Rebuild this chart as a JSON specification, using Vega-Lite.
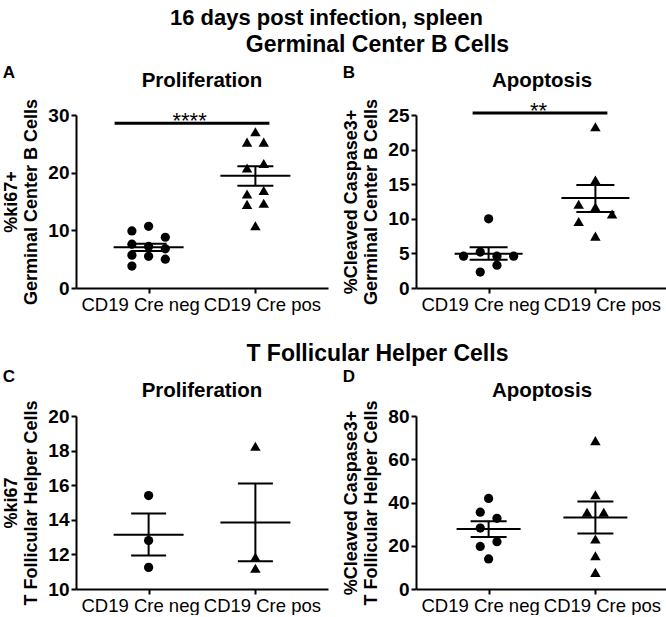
{
  "$schema": "https://vega.github.io/schema/vega-lite/v6.json",
  "padding": {"left": 2, "top": 6, "right": 0, "bottom": 0},
  "config": {
    "font": "Liberation Sans",
    "view": {"stroke": null},
    "title": {"font": "Liberation Sans", "fontWeight": "bold", "color": "black"},
    "axis": {"domainColor": "black", "domainWidth": 2, "tickColor": "black", "tickWidth": 2, "tickSize": 5, "labelColor": "black", "labelFont": "Liberation Sans", "titleFont": "Liberation Sans", "titleColor": "black", "grid": false},
    "axisY": {"labelFontSize": 19, "labelFontWeight": "bold", "labelPadding": 2, "labelOverlap": false, "titleFontSize": 18, "titleFontWeight": "bold", "titlePadding": 7, "titleLineHeight": 20},
    "axisX": {"labelFontSize": 18.5, "labelFontWeight": "normal", "labelAngle": 0, "labelPadding": 2, "labelOverlap": false, "labelOffset": {"condition": {"test": "datum.value === 'CD19 Cre neg'", "value": -8.5}, "value": 6.5}}
  },
  "title": {"text": "16 days post infection, spleen", "fontSize": 22, "anchor": "middle", "dx": -9},
  "datasets": {
    "pts": [
      {"panel": "A", "group": "CD19 Cre neg", "value": 9.9, "slot": -2},
      {"panel": "A", "group": "CD19 Cre neg", "value": 10.7, "slot": 0},
      {"panel": "A", "group": "CD19 Cre neg", "value": 8.8, "slot": 2},
      {"panel": "A", "group": "CD19 Cre neg", "value": 7.6, "slot": -2},
      {"panel": "A", "group": "CD19 Cre neg", "value": 7.2, "slot": 0},
      {"panel": "A", "group": "CD19 Cre neg", "value": 6.8, "slot": 2},
      {"panel": "A", "group": "CD19 Cre neg", "value": 5.7, "slot": -2},
      {"panel": "A", "group": "CD19 Cre neg", "value": 5.5, "slot": 0},
      {"panel": "A", "group": "CD19 Cre neg", "value": 5.0, "slot": 2},
      {"panel": "A", "group": "CD19 Cre neg", "value": 3.8, "slot": -2},
      {"panel": "A", "group": "CD19 Cre pos", "value": 27.1, "slot": 0},
      {"panel": "A", "group": "CD19 Cre pos", "value": 25.3, "slot": -1},
      {"panel": "A", "group": "CD19 Cre pos", "value": 25.3, "slot": 1},
      {"panel": "A", "group": "CD19 Cre pos", "value": 21.6, "slot": 1},
      {"panel": "A", "group": "CD19 Cre pos", "value": 20.8, "slot": -1},
      {"panel": "A", "group": "CD19 Cre pos", "value": 16.3, "slot": -1},
      {"panel": "A", "group": "CD19 Cre pos", "value": 16.9, "slot": 1},
      {"panel": "A", "group": "CD19 Cre pos", "value": 14.5, "slot": -1},
      {"panel": "A", "group": "CD19 Cre pos", "value": 14.7, "slot": 1},
      {"panel": "A", "group": "CD19 Cre pos", "value": 10.8, "slot": 0},
      {"panel": "B", "group": "CD19 Cre neg", "value": 10.0, "slot": 0},
      {"panel": "B", "group": "CD19 Cre neg", "value": 4.6, "slot": -3},
      {"panel": "B", "group": "CD19 Cre neg", "value": 5.2, "slot": -1},
      {"panel": "B", "group": "CD19 Cre neg", "value": 4.6, "slot": 1},
      {"panel": "B", "group": "CD19 Cre neg", "value": 4.6, "slot": 3},
      {"panel": "B", "group": "CD19 Cre neg", "value": 3.3, "slot": 1},
      {"panel": "B", "group": "CD19 Cre neg", "value": 2.3, "slot": -1},
      {"panel": "B", "group": "CD19 Cre pos", "value": 23.3, "slot": 0},
      {"panel": "B", "group": "CD19 Cre pos", "value": 15.6, "slot": 0},
      {"panel": "B", "group": "CD19 Cre pos", "value": 12.1, "slot": -2},
      {"panel": "B", "group": "CD19 Cre pos", "value": 11.7, "slot": 0},
      {"panel": "B", "group": "CD19 Cre pos", "value": 10.7, "slot": 2},
      {"panel": "B", "group": "CD19 Cre pos", "value": 9.6, "slot": -2},
      {"panel": "B", "group": "CD19 Cre pos", "value": 7.5, "slot": 0},
      {"panel": "C", "group": "CD19 Cre neg", "value": 15.4, "slot": 0},
      {"panel": "C", "group": "CD19 Cre neg", "value": 12.8, "slot": 0},
      {"panel": "C", "group": "CD19 Cre neg", "value": 11.25, "slot": 0},
      {"panel": "C", "group": "CD19 Cre pos", "value": 18.25, "slot": 0},
      {"panel": "C", "group": "CD19 Cre pos", "value": 11.85, "slot": 0},
      {"panel": "C", "group": "CD19 Cre pos", "value": 11.2, "slot": 0},
      {"panel": "D", "group": "CD19 Cre neg", "value": 41.9, "slot": 0},
      {"panel": "D", "group": "CD19 Cre neg", "value": 35.5, "slot": -1},
      {"panel": "D", "group": "CD19 Cre neg", "value": 32.7, "slot": 1},
      {"panel": "D", "group": "CD19 Cre neg", "value": 28.2, "slot": -1},
      {"panel": "D", "group": "CD19 Cre neg", "value": 19.7, "slot": -1},
      {"panel": "D", "group": "CD19 Cre neg", "value": 21.9, "slot": 1},
      {"panel": "D", "group": "CD19 Cre neg", "value": 13.9, "slot": 0},
      {"panel": "D", "group": "CD19 Cre pos", "value": 68.6, "slot": 0},
      {"panel": "D", "group": "CD19 Cre pos", "value": 43.6, "slot": 0},
      {"panel": "D", "group": "CD19 Cre pos", "value": 35.5, "slot": -1},
      {"panel": "D", "group": "CD19 Cre pos", "value": 35.5, "slot": 1},
      {"panel": "D", "group": "CD19 Cre pos", "value": 23.1, "slot": 0},
      {"panel": "D", "group": "CD19 Cre pos", "value": 15.4, "slot": 0},
      {"panel": "D", "group": "CD19 Cre pos", "value": 7.7, "slot": 0}
    ],
    "stats": [
      {"panel": "A", "group": "CD19 Cre neg", "stat": "mean", "value": 7.05},
      {"panel": "A", "group": "CD19 Cre neg", "stat": "lo", "value": 6.4},
      {"panel": "A", "group": "CD19 Cre neg", "stat": "hi", "value": 7.68},
      {"panel": "A", "group": "CD19 Cre pos", "stat": "mean", "value": 19.45},
      {"panel": "A", "group": "CD19 Cre pos", "stat": "lo", "value": 17.75},
      {"panel": "A", "group": "CD19 Cre pos", "stat": "hi", "value": 21.1},
      {"panel": "B", "group": "CD19 Cre neg", "stat": "mean", "value": 4.95},
      {"panel": "B", "group": "CD19 Cre neg", "stat": "lo", "value": 4.1},
      {"panel": "B", "group": "CD19 Cre neg", "stat": "hi", "value": 5.9},
      {"panel": "B", "group": "CD19 Cre pos", "stat": "mean", "value": 13.0},
      {"panel": "B", "group": "CD19 Cre pos", "stat": "lo", "value": 11.0},
      {"panel": "B", "group": "CD19 Cre pos", "stat": "hi", "value": 14.9},
      {"panel": "C", "group": "CD19 Cre neg", "stat": "mean", "value": 13.14},
      {"panel": "C", "group": "CD19 Cre neg", "stat": "lo", "value": 11.93},
      {"panel": "C", "group": "CD19 Cre neg", "stat": "hi", "value": 14.37},
      {"panel": "C", "group": "CD19 Cre pos", "stat": "mean", "value": 13.85},
      {"panel": "C", "group": "CD19 Cre pos", "stat": "lo", "value": 11.6},
      {"panel": "C", "group": "CD19 Cre pos", "stat": "hi", "value": 16.1},
      {"panel": "D", "group": "CD19 Cre neg", "stat": "mean", "value": 27.75},
      {"panel": "D", "group": "CD19 Cre neg", "stat": "lo", "value": 24.0},
      {"panel": "D", "group": "CD19 Cre neg", "stat": "hi", "value": 31.3},
      {"panel": "D", "group": "CD19 Cre pos", "stat": "mean", "value": 33.1},
      {"panel": "D", "group": "CD19 Cre pos", "stat": "lo", "value": 25.7},
      {"panel": "D", "group": "CD19 Cre pos", "stat": "hi", "value": 40.5}
    ],
    "sem": [
      {"panel": "A", "group": "CD19 Cre neg", "value": 6.4, "value2": 7.68},
      {"panel": "A", "group": "CD19 Cre pos", "value": 17.75, "value2": 21.1},
      {"panel": "B", "group": "CD19 Cre neg", "value": 4.1, "value2": 5.9},
      {"panel": "B", "group": "CD19 Cre pos", "value": 11.0, "value2": 14.9},
      {"panel": "C", "group": "CD19 Cre neg", "value": 11.93, "value2": 14.37},
      {"panel": "C", "group": "CD19 Cre pos", "value": 11.6, "value2": 16.1},
      {"panel": "D", "group": "CD19 Cre neg", "value": 24.0, "value2": 31.3},
      {"panel": "D", "group": "CD19 Cre pos", "value": 25.7, "value2": 40.5}
    ],
    "sig": [
      {"panel": "A", "group": "CD19 Cre neg", "group2": "CD19 Cre pos", "value": 28.55, "label": "****"},
      {"panel": "B", "group": "CD19 Cre neg", "group2": "CD19 Cre pos", "value": 25.3, "label": "**"}
    ]
  },
  "spacing": 29,
  "vconcat": [
    {
      "title": {"text": "Germinal Center B Cells", "fontSize": 23, "anchor": "middle", "dx": 42, "offset": 7},
      "spacing": 14,
      "hconcat": [
        {
          "title": {"text": "A", "anchor": "start", "frame": "bounds", "fontSize": 17, "offset": -11},
          "vconcat": [{
            "width": 252, "height": 173,
            "title": {"text": "Proliferation", "fontSize": 20.5, "offset": 7},
            "encoding": {
              "x": {"field": "group", "type": "nominal", "scale": {"type": "point", "padding": 0.68, "domain": ["CD19 Cre neg", "CD19 Cre pos"]}, "axis": {"title": null, "labelOverlap": false}},
              "y": {"field": "value", "type": "quantitative", "scale": {"domain": [0, 30]}, "axis": {"values": [0, 10, 20, 30], "labelOverlap": false, "title": ["%ki67+", "Germinal Center B Cells"]}}
            },
            "layer": [
              {"data": {"name": "pts"}, "transform": [{"filter": "datum.panel === 'A'"}],
               "mark": {"type": "point", "filled": true, "opacity": 1, "color": "black"},
               "encoding": {
                 "xOffset": {"field": "slot", "type": "quantitative", "scale": {"domain": [-1, 1], "range": [-8.35, 8.35]}},
                 "shape": {"field": "group", "type": "nominal", "scale": {"domain": ["CD19 Cre neg", "CD19 Cre pos"], "range": ["circle", "triangle-up"]}, "legend": null},
                 "size": {"field": "group", "type": "nominal", "scale": {"domain": ["CD19 Cre neg", "CD19 Cre pos"], "range": [85, 110]}, "legend": null}
               }},
              {"data": {"name": "stats"}, "transform": [{"filter": "datum.panel === 'A' && datum.stat === 'mean'"}], "mark": {"type": "tick", "size": 70, "thickness": 2, "color": "black", "opacity": 1}},
              {"data": {"name": "stats"}, "transform": [{"filter": "datum.panel === 'A' && datum.stat !== 'mean'"}], "mark": {"type": "tick", "size": 36, "thickness": 2, "color": "black", "opacity": 1}},
              {"data": {"name": "sem"}, "transform": [{"filter": "datum.panel === 'A'"}], "mark": {"type": "rule", "strokeWidth": 2, "color": "black"}, "encoding": {"y2": {"field": "value2"}}},
              {"data": {"name": "sig"}, "transform": [{"filter": "datum.panel === 'A'"}], "mark": {"type": "rule", "strokeWidth": 3, "color": "black", "xOffset": -34, "x2Offset": 14}, "encoding": {"x2": {"field": "group2"}}},
              {"data": {"name": "sig"}, "transform": [{"filter": "datum.panel === 'A'"}], "mark": {"type": "text", "dx": 41, "dy": 5, "fontSize": 22, "baseline": "alphabetic", "color": "black"}, "encoding": {"text": {"field": "label"}}}
            ]
          }]
        },
        {
          "title": {"text": "B", "anchor": "start", "frame": "bounds", "fontSize": 17, "offset": -11},
          "vconcat": [{
            "width": 252, "height": 173,
            "title": {"text": "Apoptosis", "fontSize": 20.5, "offset": 7},
            "encoding": {
              "x": {"field": "group", "type": "nominal", "scale": {"type": "point", "padding": 0.68, "domain": ["CD19 Cre neg", "CD19 Cre pos"]}, "axis": {"title": null, "labelOverlap": false}},
              "y": {"field": "value", "type": "quantitative", "scale": {"domain": [0, 25]}, "axis": {"values": [0, 5, 10, 15, 20, 25], "labelOverlap": false, "title": ["%Cleaved Caspase3+", "Germinal Center B Cells"]}}
            },
            "layer": [
              {"data": {"name": "pts"}, "transform": [{"filter": "datum.panel === 'B'"}],
               "mark": {"type": "point", "filled": true, "opacity": 1, "color": "black"},
               "encoding": {
                 "xOffset": {"field": "slot", "type": "quantitative", "scale": {"domain": [-1, 1], "range": [-10.2, 10.2]}},
                 "shape": {"field": "group", "type": "nominal", "scale": {"domain": ["CD19 Cre neg", "CD19 Cre pos"], "range": ["circle", "triangle-up"]}, "legend": null},
                 "size": {"field": "group", "type": "nominal", "scale": {"domain": ["CD19 Cre neg", "CD19 Cre pos"], "range": [85, 110]}, "legend": null}
               }},
              {"data": {"name": "stats"}, "transform": [{"filter": "datum.panel === 'B' && datum.stat === 'mean'"}], "mark": {"type": "tick", "size": 68, "thickness": 2, "color": "black", "opacity": 1}},
              {"data": {"name": "stats"}, "transform": [{"filter": "datum.panel === 'B' && datum.stat !== 'mean'"}], "mark": {"type": "tick", "size": 38, "thickness": 2, "color": "black", "opacity": 1}},
              {"data": {"name": "sem"}, "transform": [{"filter": "datum.panel === 'B'"}], "mark": {"type": "rule", "strokeWidth": 2, "color": "black"}, "encoding": {"y2": {"field": "value2"}}},
              {"data": {"name": "sig"}, "transform": [{"filter": "datum.panel === 'B'"}], "mark": {"type": "rule", "strokeWidth": 3, "color": "black", "xOffset": -16, "x2Offset": 12}, "encoding": {"x2": {"field": "group2"}}},
              {"data": {"name": "sig"}, "transform": [{"filter": "datum.panel === 'B'"}], "mark": {"type": "text", "dx": 50, "dy": 5, "fontSize": 22, "baseline": "alphabetic", "color": "black"}, "encoding": {"text": {"field": "label"}}}
            ]
          }]
        }
      ]
    },
    {
      "title": {"text": "T Follicular Helper Cells", "fontSize": 23, "anchor": "middle", "dx": 42, "offset": 2},
      "spacing": 14,
      "hconcat": [
        {
          "title": {"text": "C", "anchor": "start", "frame": "bounds", "fontSize": 17, "offset": -5},
          "vconcat": [{
            "width": 252, "height": 173,
            "title": {"text": "Proliferation", "fontSize": 20.5, "offset": -2},
            "encoding": {
              "x": {"field": "group", "type": "nominal", "scale": {"type": "point", "padding": 0.68, "domain": ["CD19 Cre neg", "CD19 Cre pos"]}, "axis": {"title": null, "labelOverlap": false}},
              "y": {"field": "value", "type": "quantitative", "scale": {"domain": [10, 20], "zero": false}, "axis": {"values": [10, 12, 14, 16, 18, 20], "labelOverlap": false, "title": ["%ki67", "T Follicular Helper Cells"]}}
            },
            "layer": [
              {"data": {"name": "pts"}, "transform": [{"filter": "datum.panel === 'C'"}],
               "mark": {"type": "point", "filled": true, "opacity": 1, "color": "black"},
               "encoding": {
                 "shape": {"field": "group", "type": "nominal", "scale": {"domain": ["CD19 Cre neg", "CD19 Cre pos"], "range": ["circle", "triangle-up"]}, "legend": null},
                 "size": {"field": "group", "type": "nominal", "scale": {"domain": ["CD19 Cre neg", "CD19 Cre pos"], "range": [85, 110]}, "legend": null}
               }},
              {"data": {"name": "stats"}, "transform": [{"filter": "datum.panel === 'C' && datum.stat === 'mean'"}], "mark": {"type": "tick", "size": 70, "thickness": 2, "color": "black", "opacity": 1}},
              {"data": {"name": "stats"}, "transform": [{"filter": "datum.panel === 'C' && datum.stat !== 'mean'"}], "mark": {"type": "tick", "size": 35, "thickness": 2, "color": "black", "opacity": 1}},
              {"data": {"name": "sem"}, "transform": [{"filter": "datum.panel === 'C'"}], "mark": {"type": "rule", "strokeWidth": 2, "color": "black"}, "encoding": {"y2": {"field": "value2"}}}
            ]
          }]
        },
        {
          "title": {"text": "D", "anchor": "start", "frame": "bounds", "fontSize": 17, "offset": -5},
          "vconcat": [{
            "width": 252, "height": 173,
            "title": {"text": "Apoptosis", "fontSize": 20.5, "offset": -2},
            "encoding": {
              "x": {"field": "group", "type": "nominal", "scale": {"type": "point", "padding": 0.68, "domain": ["CD19 Cre neg", "CD19 Cre pos"]}, "axis": {"title": null, "labelOverlap": false}},
              "y": {"field": "value", "type": "quantitative", "scale": {"domain": [0, 80]}, "axis": {"values": [0, 20, 40, 60, 80], "labelOverlap": false, "title": ["%Cleaved Caspase3+", "T Follicular Helper Cells"]}}
            },
            "layer": [
              {"data": {"name": "pts"}, "transform": [{"filter": "datum.panel === 'D'"}],
               "mark": {"type": "point", "filled": true, "opacity": 1, "color": "black"},
               "encoding": {
                 "xOffset": {"field": "slot", "type": "quantitative", "scale": {"domain": [-1, 1], "range": [-10.4, 10.4]}},
                 "shape": {"field": "group", "type": "nominal", "scale": {"domain": ["CD19 Cre neg", "CD19 Cre pos"], "range": ["circle", "triangle-up"]}, "legend": null},
                 "size": {"field": "group", "type": "nominal", "scale": {"domain": ["CD19 Cre neg", "CD19 Cre pos"], "range": [85, 110]}, "legend": null}
               }},
              {"data": {"name": "stats"}, "transform": [{"filter": "datum.panel === 'D' && datum.stat === 'mean'"}], "mark": {"type": "tick", "size": 64, "thickness": 2, "color": "black", "opacity": 1}},
              {"data": {"name": "stats"}, "transform": [{"filter": "datum.panel === 'D' && datum.stat !== 'mean'"}], "mark": {"type": "tick", "size": 36, "thickness": 2, "color": "black", "opacity": 1}},
              {"data": {"name": "sem"}, "transform": [{"filter": "datum.panel === 'D'"}], "mark": {"type": "rule", "strokeWidth": 2, "color": "black"}, "encoding": {"y2": {"field": "value2"}}}
            ]
          }]
        }
      ]
    }
  ]
}
